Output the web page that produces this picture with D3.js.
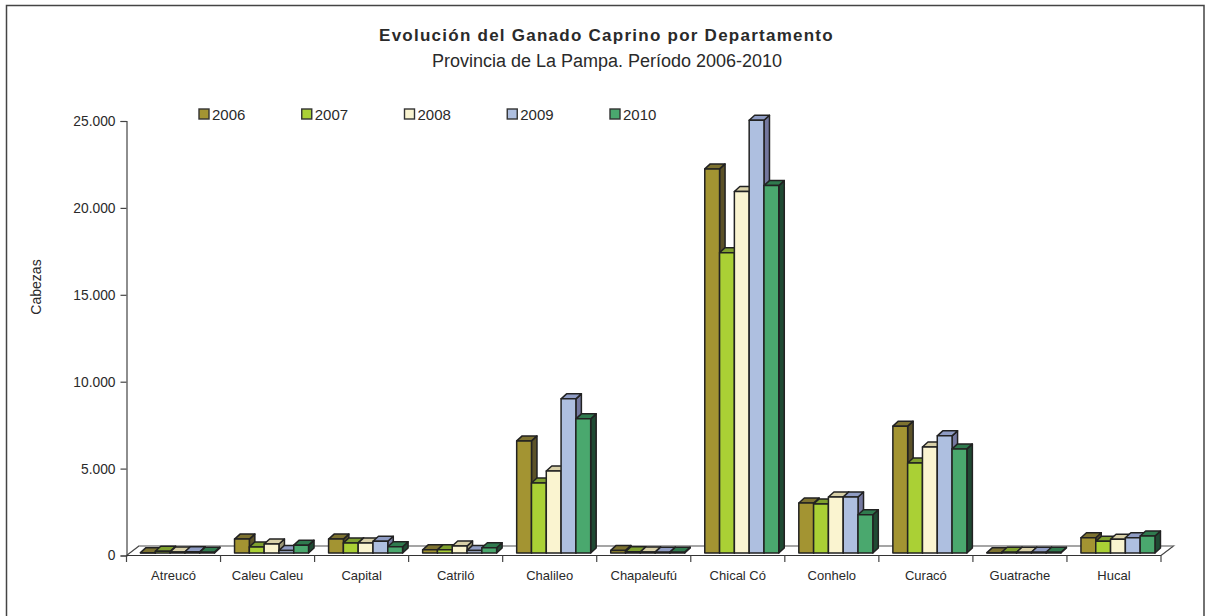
<!DOCTYPE html>
<html><head><meta charset="utf-8">
<script src="https://cdn.jsdelivr.net/npm/d3@7/dist/d3.min.js"></script>
<style>html,body{margin:0;background:#fff}svg{display:block}text{font-family:"Liberation Sans",Arial,sans-serif;fill:#2a2a2a}</style>
</head><body><svg id="c" width="1205" height="616"></svg>
<script>
const categories=["Atreucó","Caleu Caleu","Capital","Catriló","Chalileo","Chapaleufú","Chical Có","Conhelo","Curacó","Guatrache","Hucal"];
const years=["2006","2007","2008","2009","2010"];
const v2006=[20,800,800,180,6450,150,22100,2880,7300,20,880];
const v2007=[100,350,580,180,4030,70,17280,2820,5180,40,670];
const v2008=[60,520,580,400,4720,60,20800,3220,6100,40,790];
const v2009=[70,150,680,150,8870,50,24900,3220,6740,40,880];
const v2010=[50,450,360,300,7720,50,21140,2200,5990,40,980];
const series=[v2006,v2007,v2008,v2009,v2010];
const yTicks=[0,5000,10000,15000,20000,25000];
const tickLabels=["0","5.000","10.000","15.000","20.000","25.000"];
const front=["#a39432","#aad035","#faf4d0","#aebfe0","#4aa86e"];
const side=["#5c5228","#5f7a22","#9c9878","#74789f","#1f4a33"];
const topc=["#7d7230","#7fa02e","#d8d0a8","#8f9cc4","#2f7a4e"];
const stroke="#222";

const svg=d3.select("#c");
svg.append("path").attr("d","M6.5,616V5.5H1204V616").attr("fill","#fff").attr("stroke","#444").attr("stroke-width",1.5);

const x=d3.scaleBand().domain(categories).range([126.5,1161]);
const y=d3.scaleLinear().domain([0,25000]).range([555.5,121]);
const xs=d3.scaleBand().domain(d3.range(5)).range([14,88]);
const barLift=2.5, depX=5.5, depY=5;

// floor
const floorDx=12.5, floorDy=9.5;
svg.append("path").attr("d",`M126.5,555.5L${126.5+floorDx},${555.5-floorDy}H${1161+floorDx}L1161,555.5`).attr("fill","#fff").attr("stroke","#888").attr("stroke-width",1.4);
svg.append("path").attr("d",`M126.5,555.5L${126.5+floorDx},${555.5-floorDy}M1161,555.5L${1161+floorDx},${555.5-floorDy}`).attr("stroke","#444").attr("fill","none");

// bars
const g=svg.append("g").attr("stroke",stroke).attr("stroke-width",1.5).attr("stroke-linejoin","round");
categories.forEach((c,i)=>{
  series.forEach((s,k)=>{
    const x0=x(c)+xs(k), w=xs.bandwidth(), x1=x0+w, y0=y(0)-barLift, t=y(s[i])-barLift;
    const b=g.append("g").attr("class","bar");
    b.append("path").attr("d",`M${x1},${y0}L${x1+depX},${y0-depY}L${x1+depX},${t-depY}L${x1},${t}Z`).attr("fill",side[k]);
    b.append("path").attr("d",`M${x0},${t}L${x0+depX},${t-depY}L${x1+depX},${t-depY}L${x1},${t}Z`).attr("fill",topc[k]);
    b.append("rect").attr("x",x0).attr("y",t).attr("width",w).attr("height",y0-t).attr("fill",front[k]);
  });
});

// axes
const yAxis=d3.axisLeft(y).tickValues(yTicks).tickFormat((d,i)=>tickLabels[i]).tickSize(6).tickPadding(5);
const ga=svg.append("g").attr("transform","translate(126.5,0)").call(yAxis);
ga.selectAll("path,line").attr("stroke","#444").attr("stroke-width",1.2);
ga.selectAll("text").attr("font-size",13.8).attr("fill","#2a2a2a");
const xAxis=d3.axisBottom(x).tickSize(0).tickPadding(15);
const gb=svg.append("g").attr("transform","translate(0,555.5)").call(xAxis);
gb.select("path").attr("stroke","#333").attr("stroke-width",1.2).attr("d","M126.5,0H1161");
gb.selectAll("text").attr("font-size",13).attr("fill","#2a2a2a");
svg.append("g").selectAll("line").data(d3.range(12)).join("line")
 .attr("x1",i=>126.5+i*x.step()).attr("x2",i=>126.5+i*x.step()).attr("y1",555.5).attr("y2",562).attr("stroke","#444").attr("stroke-width",1.2);

// titles
svg.append("text").attr("x",606.5).attr("y",41).attr("text-anchor","middle").attr("font-size",17).attr("font-weight","bold").attr("letter-spacing",1.25).text("Evolución del Ganado Caprino por Departamento");
svg.append("text").attr("x",607).attr("y",66.5).attr("text-anchor","middle").attr("font-size",18).text("Provincia de La Pampa. Período 2006-2010");
svg.append("text").attr("transform","translate(41,287) rotate(-90)").attr("text-anchor","middle").attr("font-size",14).text("Cabezas");

// legend
const lx=d3.scalePoint().domain(years).range([199,610]);
const lg=svg.append("g").selectAll("g").data(years).join("g").attr("transform",d=>`translate(${lx(d)},109)`);
lg.append("rect").attr("width",10).attr("height",10).attr("x",0).attr("y",0).attr("fill",(d,i)=>front[i]).attr("stroke","#333").attr("stroke-width",1.4);
lg.append("text").attr("x",13).attr("y",11).attr("font-size",15).text(d=>d);
</script></body></html>
